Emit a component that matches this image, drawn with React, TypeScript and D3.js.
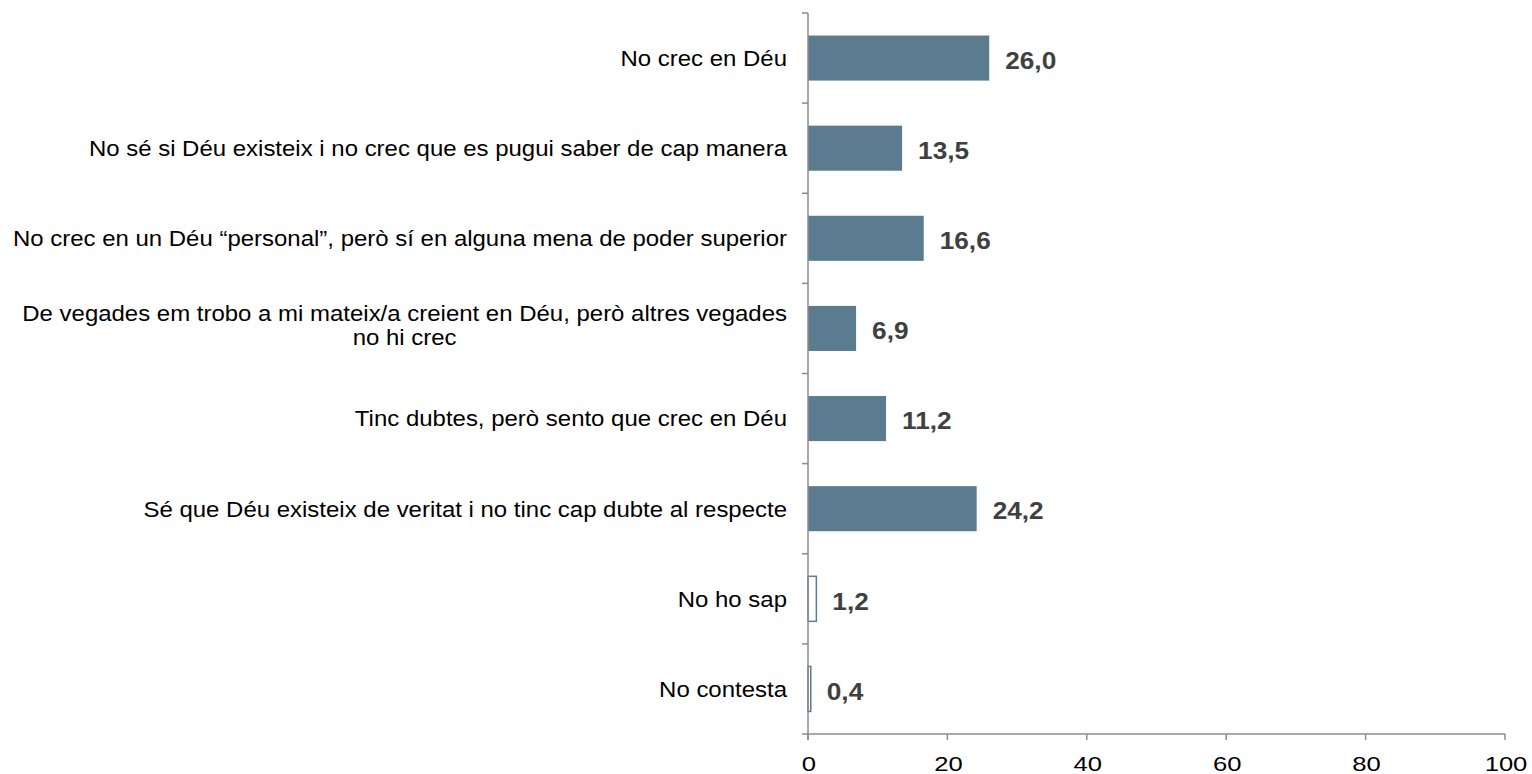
import React, { useRef, useEffect } from 'react';
import * as d3 from 'd3';

const categories = [
  'No crec en Déu',
  'No sé si Déu existeix i no crec que es pugui saber de cap manera',
  'No crec en un Déu “personal”, però sí en alguna mena de poder superior',
  'De vegades em trobo a mi mateix/a creient en Déu, però altres vegades\nno hi crec',
  'Tinc dubtes, però sento que crec en Déu',
  'Sé que Déu existeix de veritat i no tinc cap dubte al respecte',
  'No ho sap',
  'No contesta',
];
const values = [26.0, 13.5, 16.6, 6.9, 11.2, 24.2, 1.2, 0.4];
const hollow = [false, false, false, false, false, false, true, true];
const xTicks = [0, 20, 40, 60, 80, 100];

const W = 1532;
const H = 774;

const App: React.FC = () => {
  const svgRef = useRef<SVGSVGElement | null>(null);

  useEffect(() => {
    const svg = d3.select(svgRef.current);
    svg.selectAll('*').remove();

    const left = 808, right = 1505, top = 13, bottom = 734;
    const x = d3.scaleLinear().domain([0, 100]).range([left, right]);
    const y = d3.scaleBand<number>()
      .domain(d3.range(categories.length))
      .range([top, bottom])
      .paddingInner(0.5)
      .paddingOuter(0.25);
    const step = (bottom - top) / categories.length;
    const axisColor = '#8c8c8c';
    const font = 'Liberation Sans, Arial, sans-serif';

    // bars
    svg.append('g')
      .selectAll('rect')
      .data(values)
      .join('rect')
      .attr('x', x(0))
      .attr('y', (d, i) => y(i)!)
      .attr('width', d => x(d) - x(0))
      .attr('height', y.bandwidth())
      .attr('fill', (d, i) => (hollow[i] ? '#ffffff' : '#5b7b8e'))
      .attr('stroke', (d, i) => (hollow[i] ? '#5b7b8e' : 'none'))
      .attr('stroke-width', 1.5);

    // y axis line and ticks
    const ya = svg.append('g').attr('stroke', axisColor).attr('stroke-width', 1.5);
    ya.append('line').attr('x1', x(0)).attr('x2', x(0)).attr('y1', top).attr('y2', bottom + 6);
    d3.range(categories.length + 1).forEach(i => {
      const yy = top + i * step;
      ya.append('line').attr('x1', x(0) - 6).attr('x2', x(0)).attr('y1', yy).attr('y2', yy);
    });

    // x axis
    const xa = svg.append('g').attr('stroke', axisColor).attr('stroke-width', 1.5);
    xa.append('line').attr('x1', x(0)).attr('x2', x(100)).attr('y1', bottom).attr('y2', bottom);
    xTicks.forEach(t => {
      xa.append('line').attr('x1', x(t)).attr('x2', x(t)).attr('y1', bottom).attr('y2', bottom + 6);
    });
    // the source text is slightly stretched sideways
    svg.append('g')
      .selectAll('text')
      .data(xTicks)
      .join('text')
      .attr('transform', d => `translate(${x(d) + 1},${bottom + 37}) scale(1.25,1)`)
      .attr('text-anchor', 'middle')
      .attr('font-family', font)
      .attr('font-size', 20.5)
      .attr('fill', '#000')
      .text(d => d);

    // category labels
    const labelX = 787;
    const fs = 22;
    const sx = 1.09;
    const capOff = fs * 0.716 / 2;
    categories.forEach((c, i) => {
      const lines = c.split('\n');
      const cy = y(i)! + y.bandwidth() / 2;
      const lh = 24;
      const y0 = cy - ((lines.length - 1) * lh) / 2 - (lines.length > 1 ? 3 : 0);
      const first = svg.append('text')
        .attr('transform', `translate(${labelX},${y0 + capOff}) scale(${sx},1)`)
        .attr('text-anchor', 'end')
        .attr('font-family', font)
        .attr('font-size', fs)
        .attr('fill', '#000')
        .text(lines[0]);
      if (lines.length > 1) {
        const w = (first.node() as SVGTextElement).getComputedTextLength() * sx;
        const mid = labelX - w / 2;
        lines.slice(1).forEach((ln, k) => {
          svg.append('text')
            .attr('transform', `translate(${mid},${y0 + (k + 1) * lh + capOff}) scale(${sx},1)`)
            .attr('text-anchor', 'middle')
            .attr('font-family', font)
            .attr('font-size', fs)
            .attr('fill', '#000')
            .text(ln);
        });
      }
    });

    // value labels
    const vfs = 24.5;
    svg.append('g')
      .selectAll('text')
      .data(values)
      .join('text')
      .attr('transform', (d, i) =>
        `translate(${x(d) + 16},${y(i)! + y.bandwidth() / 2 + 2 + vfs * 0.716 / 2}) scale(1.07,1)`)
      .attr('font-family', font)
      .attr('font-size', vfs)
      .attr('font-weight', 'bold')
      .attr('fill', '#404040')
      .text(d => d.toFixed(1).replace('.', ','));
  }, []);

  return (
    <svg
      ref={svgRef}
      width={W}
      height={H}
      style={{ position: 'absolute', left: 0, top: 0, background: '#fff' }}
    />
  );
};

export default App;
